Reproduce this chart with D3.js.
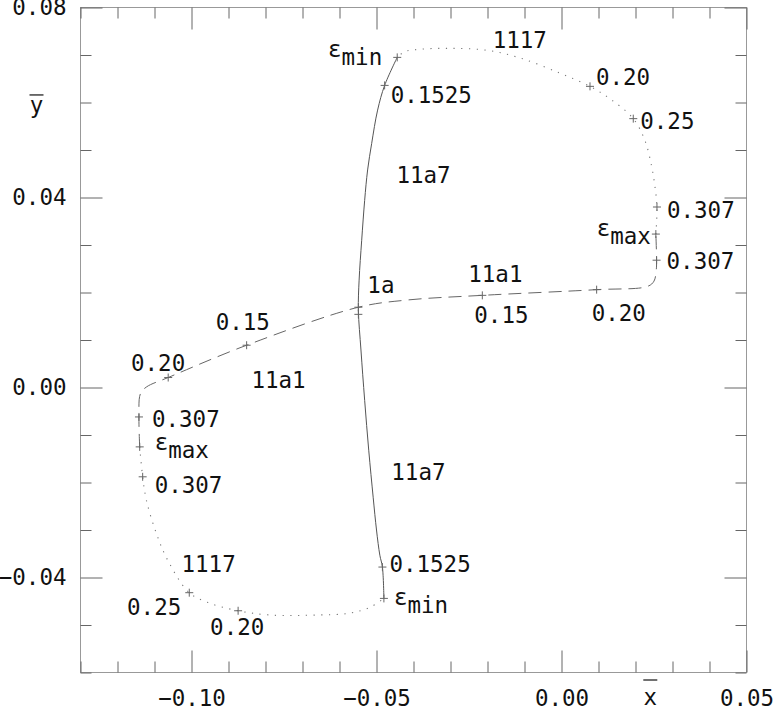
<!DOCTYPE html>
<html><head><meta charset="utf-8">
<script src="https://cdn.jsdelivr.net/npm/d3@7"></script>
<style>
body{margin:0;background:#fff;}
svg{display:block;font-family:"DejaVu Sans Mono",monospace;}
</style></head><body>
<svg id="c" width="775" height="707"></svg>
<script>
// ---------- data ----------
const xDomain = [-0.13, 0.05];
const yDomain = [-0.06, 0.08];
const xMajorTicks = [-0.10, -0.05, 0.00, 0.05];
const yMajorTicks = [-0.04, 0.00, 0.04, 0.08];
const xAxisTitle = "x";
const yAxisTitle = "y";

// curve 11a7 (solid)
const curve11a7 = [[-0.0444,0.0695],[-0.0478,0.0636],[-0.0497,0.0584],[-0.0513,0.0514],[-0.0524,0.0458],
  [-0.0532,0.0394],[-0.0540,0.0310],[-0.0547,0.0226],[-0.0549,0.0163],[-0.0542,0.0079],[-0.0532,-0.0027],
  [-0.0521,-0.0132],[-0.0509,-0.0231],[-0.0500,-0.0300],[-0.0491,-0.0353],[-0.0484,-0.0378],[-0.0480,-0.0444]];
// curve 11a1 (dashed)
const curve11a1 = [[-0.1140,-0.0125],[-0.1142,-0.0062],[-0.1138,-0.0013],[-0.1122,0.0001],[-0.1063,0.0021],
  [-0.0851,0.0089],[-0.0549,0.0169],[-0.0419,0.0184],[-0.0214,0.0194],[0.0095,0.0206],[0.0233,0.0213],
  [0.0250,0.0224],[0.0256,0.0247],[0.0257,0.0268],[0.0255,0.0323]];
// curve 1117 (dotted), two branches
const curve1117a = [[0.0255,0.0323],[0.0258,0.0380],[0.0252,0.0426],[0.0243,0.0468],[0.0225,0.0521],
  [0.0194,0.0566],[0.0136,0.0605],[0.0077,0.0634],[-0.0005,0.0662],[-0.0113,0.0694],[-0.0202,0.0710],
  [-0.0302,0.0714],[-0.0383,0.0712],[-0.0424,0.0707],[-0.0444,0.0695]];
const curve1117b = [[-0.1140,-0.0125],[-0.1132,-0.0188],[-0.1122,-0.0237],[-0.1095,-0.0307],[-0.1064,-0.0364],
  [-0.1006,-0.0432],[-0.0951,-0.0454],[-0.0874,-0.0470],[-0.0788,-0.0479],[-0.0662,-0.0479],[-0.0572,-0.0475],
  [-0.0518,-0.0463],[-0.0480,-0.0444]];

// marked points with labels
const marks11a7 = [
  {x:-0.0444, y:0.0695, t:"ε", s:"min"},
  {x:-0.0478, y:0.0636, t:"0.1525"},
  {x:-0.0549, y:0.0154, t:""},
  {x:-0.0484, y:-0.0378, t:"0.1525"},
  {x:-0.0480, y:-0.0444, t:"ε", s:"min"}];
const marks11a1 = [
  {x:-0.1140, y:-0.0125, t:"ε", s:"max"},
  {x:-0.1142, y:-0.0062, t:"0.307"},
  {x:-0.1063, y:0.0021, t:"0.20"},
  {x:-0.0851, y:0.0089, t:"0.15"},
  {x:-0.0549, y:0.0169, t:"1a"},
  {x:-0.0214, y:0.0194, t:"0.15"},
  {x:0.0095, y:0.0206, t:"0.20"},
  {x:0.0257, y:0.0268, t:"0.307"},
  {x:0.0255, y:0.0323, t:"ε", s:"max"}];
const marks1117 = [
  {x:0.0258, y:0.0380, t:"0.307"},
  {x:0.0194, y:0.0566, t:"0.25"},
  {x:0.0077, y:0.0634, t:"0.20"},
  {x:-0.1132, y:-0.0188, t:"0.307"},
  {x:-0.1006, y:-0.0432, t:"0.25"},
  {x:-0.0874, y:-0.0470, t:"0.20"}];

// curve names
const curveNames = [
  {t:"1117", x:-0.0186, y:0.0714},
  {t:"11a7", x:-0.0446, y:0.0430},
  {t:"11a1", x:-0.0252, y:0.0222},
  {t:"11a1", x:-0.0838, y:-0.0002},
  {t:"11a7", x:-0.0460, y:-0.0194},
  {t:"1117", x:-0.1027, y:-0.0388}];

// ---------- layout (pixel offsets of the point labels) ----------
const off11a7 = [{a:"end",dx:-15,dy:0},{a:"start",dx:6,dy:18},null,{a:"start",dx:7,dy:5},{a:"start",dx:10,dy:7}];
const off11a1 = [{a:"start",dx:15,dy:3},{a:"start",dx:13,dy:10},{a:"end",dx:17,dy:-7},{a:"start",dx:-31,dy:-15},
  {a:"start",dx:9,dy:-14},{a:"start",dx:-8,dy:28},{a:"start",dx:-5,dy:31},{a:"start",dx:10,dy:9},{a:"end",dx:-5,dy:2}];
const off1117 = [{a:"start",dx:10,dy:11},{a:"start",dx:7,dy:10},{a:"start",dx:6,dy:-1},
  {a:"start",dx:12,dy:16},{a:"end",dx:-8,dy:22},{a:"start",dx:-28,dy:24}];

// ---------- drawing ----------
const L = 80.5, T = 7.5, W = 666, H = 665;
const FS = 22.5;
const svg = d3.select("#c");
const x = d3.scaleLinear().domain(xDomain).range([L, L + W]);
const y = d3.scaleLinear().domain(yDomain).range([T + H, T]);

const tickCol = "#666", frameCol = "#999", textCol = "#111";

// frame
svg.append("rect").attr("x", L).attr("y", T).attr("width", W).attr("height", H)
  .attr("fill", "none").attr("stroke", frameCol).attr("stroke-width", 1);

const xMinor = x.ticks(18).filter(v => !xMajorTicks.some(m => Math.abs(m - v) < 1e-9));
const yMinor = y.ticks(14).filter(v => !yMajorTicks.some(m => Math.abs(m - v) < 1e-9));

function tickAxis(gen, tr, vals, size) {
  const g = svg.append("g").attr("transform", tr)
    .call(gen.tickValues(vals).tickSize(-size).tickFormat(""));
  g.select(".domain").remove();
  g.selectAll("line").attr("stroke", tickCol);
}
tickAxis(d3.axisBottom(x), `translate(0,${T + H})`, xMajorTicks, 22);
tickAxis(d3.axisBottom(x), `translate(0,${T + H})`, xMinor, 11);
tickAxis(d3.axisTop(x), `translate(0,${T})`, xMajorTicks, 22);
tickAxis(d3.axisTop(x), `translate(0,${T})`, xMinor, 11);
tickAxis(d3.axisLeft(y), `translate(${L},0)`, yMajorTicks, 22);
tickAxis(d3.axisLeft(y), `translate(${L},0)`, yMinor, 11);
tickAxis(d3.axisRight(y), `translate(${L + W},0)`, yMajorTicks, 22);
tickAxis(d3.axisRight(y), `translate(${L + W},0)`, yMinor, 11);

// tick labels
const fmt = d3.format(".2f");
const gxl = svg.append("g").attr("transform", `translate(0,${T + H})`)
  .call(d3.axisBottom(x).tickValues(xMajorTicks).tickSize(0).tickPadding(17.5).tickFormat(fmt));
gxl.select(".domain").remove();
gxl.selectAll("text").attr("font-size", FS).attr("font-family", "DejaVu Sans Mono").attr("fill", textCol);
const gyl = svg.append("g").attr("transform", `translate(${L},0)`)
  .call(d3.axisLeft(y).tickValues(yMajorTicks).tickSize(0).tickPadding(14).tickFormat(fmt));
gyl.select(".domain").remove();
gyl.selectAll("text").attr("font-size", FS).attr("font-family", "DejaVu Sans Mono").attr("fill", textCol);

// axis titles with overbars
const xt = svg.append("text").attr("x", x(0.0240)).attr("y", T + H + 32).attr("text-anchor", "middle")
  .attr("font-size", FS).attr("fill", textCol).text(xAxisTitle);
svg.append("line").attr("x1", x(0.0240) - 7).attr("x2", x(0.0240) + 7)
  .attr("y1", T + H + 7.5).attr("y2", T + H + 7.5).attr("stroke", textCol).attr("stroke-width", 1.2);
svg.append("text").attr("x", 36.5).attr("y", y(0.0578)).attr("text-anchor", "middle")
  .attr("font-size", FS).attr("fill", textCol).text(yAxisTitle);
svg.append("line").attr("x1", 29.5).attr("x2", 43.5).attr("y1", y(0.0578) - 18).attr("y2", y(0.0578) - 18)
  .attr("stroke", textCol).attr("stroke-width", 1.2);

// curves
const line = d3.line().x(d => x(d[0])).y(d => y(d[1])).curve(d3.curveCatmullRom.alpha(0.5));
svg.append("path").attr("d", line(curve11a7)).attr("fill", "none").attr("stroke", "#555").attr("stroke-width", 1);
svg.append("path").attr("d", line(curve11a1)).attr("fill", "none").attr("stroke", "#666").attr("stroke-width", 1)
  .attr("stroke-dasharray", "13,7");
[curve1117a, curve1117b].forEach(c =>
  svg.append("path").attr("d", line(c)).attr("fill", "none").attr("stroke", "#777").attr("stroke-width", 1.1)
    .attr("stroke-dasharray", "1.2,6.5"));

// markers and labels
function drawMarks(marks, offs) {
  marks.forEach((m, i) => {
    const px = x(m.x), py = y(m.y);
    svg.append("path").attr("d", `M${px - 4},${py}H${px + 4}M${px},${py - 4}V${py + 4}`)
      .attr("stroke", "#666").attr("stroke-width", 1).attr("fill", "none");
    const o = offs[i];
    if (!o || !m.t) return;
    const t = svg.append("text").attr("x", px + o.dx).attr("y", py + o.dy).attr("text-anchor", o.a)
      .attr("font-size", FS).attr("fill", textCol);
    t.append("tspan").text(m.t);
    if (m.s) t.append("tspan").attr("dy", 8).text(m.s);
  });
}
drawMarks(marks11a7, off11a7);
drawMarks(marks11a1, off11a1);
drawMarks(marks1117, off1117);

svg.selectAll(null).data(curveNames).enter().append("text")
  .attr("x", d => x(d.x)).attr("y", d => y(d.y)).attr("font-size", FS).attr("fill", textCol)
  .text(d => d.t);
</script>
</body></html>
